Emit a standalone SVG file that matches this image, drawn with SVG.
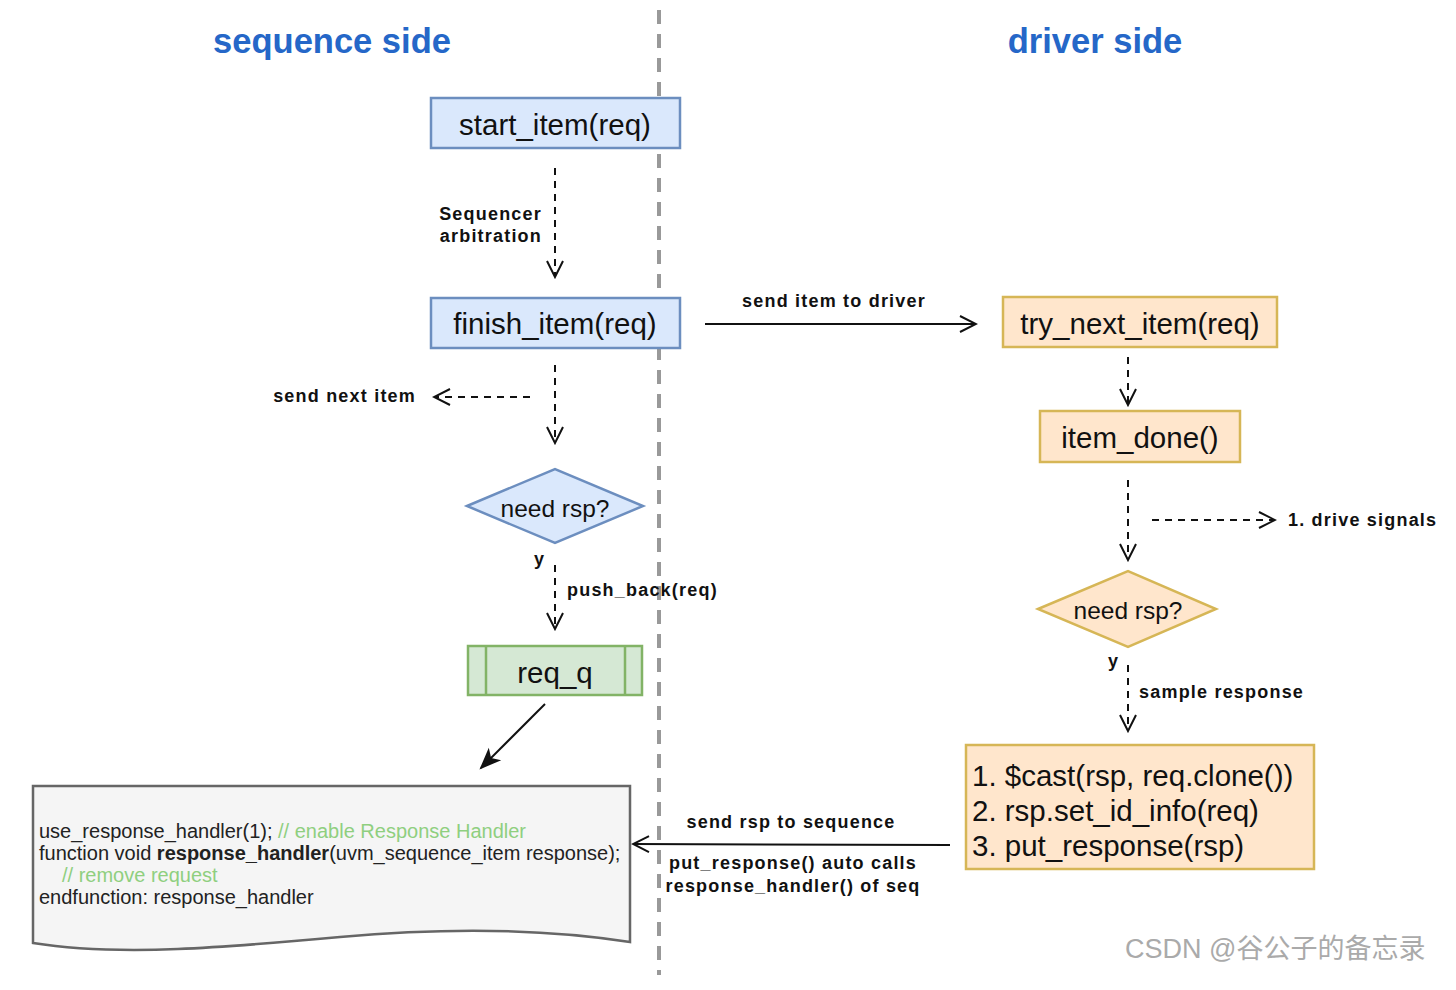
<svg xmlns="http://www.w3.org/2000/svg" width="1456" height="990" viewBox="0 0 1456 990">
<style>
.title{font-family:"Liberation Sans",Arial,sans-serif;font-weight:bold;font-size:34.5px;fill:#2567c8;text-anchor:middle}
.node{font-family:"Liberation Sans",Arial,sans-serif;font-size:29.5px;fill:#111;text-anchor:middle}
.nodel{font-family:"Liberation Sans",Arial,sans-serif;font-size:29.5px;fill:#111;text-anchor:start}
.dia{font-family:"Liberation Sans",Arial,sans-serif;font-size:24.5px;fill:#111;text-anchor:middle}
.lbl{font-family:"Liberation Sans",Arial,sans-serif;font-weight:bold;font-size:18px;letter-spacing:1.2px;fill:#111}
.code{font-family:"Liberation Sans",Arial,sans-serif;font-size:20px;fill:#222}
.cmt{fill:#8fcf7f}
.blue{fill:#dae8fc;stroke:#6c8ebf;stroke-width:2.5}
.org{fill:#ffe6cc;stroke:#d6b656;stroke-width:2.5}
.grn{fill:#d5e8d4;stroke:#82b366;stroke-width:2.5}
.dash{fill:none;stroke:#111;stroke-width:2;stroke-dasharray:7 6}
.solid{fill:none;stroke:#111;stroke-width:2}
</style>
<defs>
<marker id="open" viewBox="0 0 20 20" refX="18" refY="10" markerWidth="20" markerHeight="20" markerUnits="userSpaceOnUse" orient="auto">
<path d="M2,2 L18,10 L2,18" fill="none" stroke="#111" stroke-width="2"/>
</marker>
<marker id="fill" viewBox="0 0 20 20" refX="18" refY="10" markerWidth="22" markerHeight="22" markerUnits="userSpaceOnUse" orient="auto">
<path d="M0,2 L20,10 L0,18 L5,10 Z" fill="#111"/>
</marker>
</defs>
<rect width="1456" height="990" fill="#fff"/>
<text class="title" x="332" y="53">sequence side</text>
<text class="title" x="1095" y="53">driver side</text>
<line x1="659" y1="10" x2="659" y2="975" stroke="#999" stroke-width="4" stroke-dasharray="14 10"/>

<g id="connectors">
<line class="dash" x1="555" y1="168" x2="555" y2="277" marker-end="url(#open)"/>
<line class="solid" x1="705" y1="324" x2="976" y2="324" marker-end="url(#open)"/>
<line class="dash" x1="555" y1="365" x2="555" y2="443" marker-end="url(#open)"/>
<line class="dash" x1="530" y1="397" x2="434" y2="397" marker-end="url(#open)"/>
<line class="dash" x1="555" y1="565" x2="555" y2="629" marker-end="url(#open)"/>
<line class="solid" x1="545" y1="704" x2="481" y2="768" marker-end="url(#fill)"/>
<line class="dash" x1="1128" y1="357" x2="1128" y2="405" marker-end="url(#open)"/>
<line class="dash" x1="1128" y1="480" x2="1128" y2="560" marker-end="url(#open)"/>
<line class="dash" x1="1152" y1="520" x2="1275" y2="520" marker-end="url(#open)"/>
<line class="dash" x1="1128" y1="665" x2="1128" y2="731" marker-end="url(#open)"/>
<line class="solid" x1="950" y1="845" x2="633" y2="844" marker-end="url(#open)"/>
<text class="lbl" x="542" y="220" text-anchor="end">Sequencer</text>
<text class="lbl" x="542" y="242" text-anchor="end">arbitration</text>
<text class="lbl" x="834" y="307" text-anchor="middle">send item to driver</text>
<text class="lbl" x="416" y="402" text-anchor="end">send next item</text>
<text class="lbl" x="534" y="565" font-size="20">y</text>
<text class="lbl" x="567" y="596">push_back(req)</text>
<text class="lbl" x="1288" y="526">1. drive signals</text>
<text class="lbl" x="1108" y="667" font-size="20">y</text>
<text class="lbl" x="1139" y="698">sample response</text>
<text class="lbl" x="791" y="828" text-anchor="middle">send rsp to sequence</text>
<text class="lbl" x="793" y="869" text-anchor="middle">put_response() auto calls</text>
<text class="lbl" x="793" y="892" text-anchor="middle">response_handler() of seq</text>
</g>

<g id="start_item">
<rect class="blue" x="431" y="98" width="249" height="50"/>
<text class="node" x="555" y="135">start_item(req)</text>
</g>
<g id="finish_item">
<rect class="blue" x="431" y="298" width="249" height="50"/>
<text class="node" x="555" y="334">finish_item(req)</text>
</g>
<g id="need_rsp_seq">
<polygon class="blue" points="467,506 555,469 643,506 555,543"/>
<text class="dia" x="555" y="517">need rsp?</text>
</g>
<g id="req_q">
<rect class="grn" x="468" y="646" width="174" height="49"/>
<line x1="486" y1="646" x2="486" y2="695" stroke="#82b366" stroke-width="2.5"/>
<line x1="625" y1="646" x2="625" y2="695" stroke="#82b366" stroke-width="2.5"/>
<text class="node" x="555" y="683">req_q</text>
</g>
<g id="handler_doc">
<path d="M33,786 H630 V942 C540,928 440,928 340,937 C230,947 120,957 33,943 Z" fill="#f5f5f5" stroke="#666" stroke-width="2.5"/>
<text class="code" x="39" y="838">use_response_handler(1); <tspan class="cmt">// enable Response Handler</tspan></text>
<text class="code" x="39" y="860">function void <tspan font-weight="bold">response_handler</tspan>(uvm_sequence_item response);</text>
<text class="code cmt" x="62" y="882">// remove request</text>
<text class="code" x="39" y="904">endfunction: response_handler</text>
</g>
<g id="try_next_item">
<rect class="org" x="1003" y="297" width="274" height="50"/>
<text class="node" x="1140" y="334">try_next_item(req)</text>
</g>
<g id="item_done">
<rect class="org" x="1040" y="411" width="200" height="51"/>
<text class="node" x="1140" y="448">item_done()</text>
</g>
<g id="need_rsp_drv">
<polygon class="org" points="1038,609 1128,571 1216,609 1128,647"/>
<text class="dia" x="1128" y="619">need rsp?</text>
</g>
<g id="response_box">
<rect class="org" x="966" y="745" width="348" height="124"/>
<text class="nodel" x="972" y="786">1. $cast(rsp, req.clone())</text>
<text class="nodel" x="972" y="821">2. rsp.set_id_info(req)</text>
<text class="nodel" x="972" y="856">3. put_response(rsp)</text>
</g>
<text x="1125" y="958" font-family="'Liberation Sans','Noto Sans CJK SC',sans-serif" font-size="27" fill="#aaa">CSDN @谷公子的备忘录</text>
</svg>
